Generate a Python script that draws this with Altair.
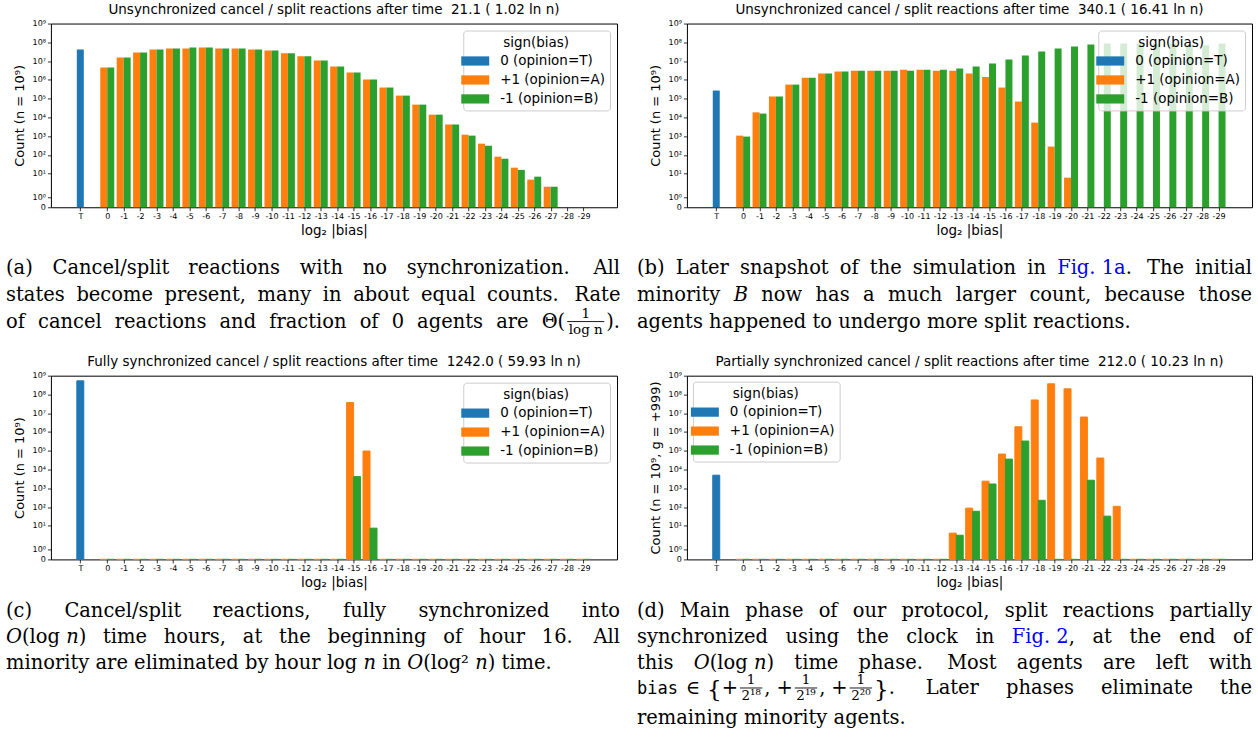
import altair as alt

# ---------------- data ----------------
TICK_LABELS = ["T", "0"] + [f"-{k}" for k in range(1, 30)]
BIN_LABELS = TICK_LABELS[1:]          # 0, -1, ..., -29
SERIES = ["0 (opinion=T)", "+1 (opinion=A)", "-1 (opinion=B)"]
COLORS = ["#1f77b4", "#ff7f0e", "#2ca02c"]

A_TITLE = "Unsynchronized cancel / split reactions after time\u00a0 21.1 ( 1.02 ln n)"
A_T = 4.2e7
A_A = [4.5e6, 1.55e7, 2.9e7, 4.2e7, 4.7e7, 4.7e7, 5.3e7, 4.7e7, 4.7e7, 4.2e7,
       3.7e7, 2.6e7, 1.8e7, 1.08e7, 5.1e6, 2.5e6, 1.04e6, 3.9e5, 1.45e5, 4.8e4,
       1.4e4, 4.2e3, 1.2e3, 4.0e2, 81, 21, 5.6, 2.8, 0, 0]
A_B = [4.5e6, 1.55e7, 2.9e7, 4.2e7, 4.7e7, 5.3e7, 5.3e7, 4.7e7, 4.7e7, 4.2e7,
       3.7e7, 2.6e7, 1.8e7, 1.08e7, 5.1e6, 2.5e6, 1.04e6, 3.9e5, 1.45e5, 4.8e4,
       1.4e4, 4.2e3, 1.07e3, 3.1e2, 63, 16, 7.5, 2.8, 0, 0]

B_TITLE = "Unsynchronized cancel / split reactions after time\u00a0 340.1 ( 16.41 ln n)"
B_T = 2.7e5
B_A = [1.07e3, 1.86e4, 1.3e5, 5.6e5, 1.3e6, 2.2e6, 2.8e6, 3.1e6, 3.1e6, 3.1e6,
       3.5e6, 3.5e6, 3.1e6, 3.1e6, 2.2e6, 1.4e6, 3.9e5, 7.0e4, 5.3e3, 2.8e2,
       6.8, 0, 0, 0, 0, 0, 0, 0, 0, 0]
B_B = [9.5e2, 1.6e4, 1.3e5, 5.6e5, 1.3e6, 2.2e6, 2.8e6, 3.1e6, 3.1e6, 3.1e6,
       3.1e6, 3.5e6, 3.5e6, 4.0e6, 5.2e6, 7.4e6, 1.2e7, 2.0e7, 3.2e7, 4.7e7,
       6.0e7, 7.7e7, 8.7e7, 8.7e7, 8.9e7, 8.7e7, 8.7e7, 7.7e7, 7.0e7, 8.7e7]

C_TITLE = "Fully synchronized cancel / split reactions after time\u00a0 1242.0 ( 59.93 ln n)"
C_T = 5.3e8
C_A = [0, 0, 0, 0, 0, 0, 0, 0, 0, 0, 0, 0, 0, 0, 0, 3.7e7, 9.7e4,
       0, 0, 0, 0, 0, 0, 0, 0, 0, 0, 0, 0, 0]
C_B = [0, 0, 0, 0, 0, 0, 0, 0, 0, 0, 0, 0, 0, 0, 0, 4.2e3, 8.0,
       0, 0, 0, 0, 0, 0, 0, 0, 0, 0, 0, 0, 0]

D_TITLE = "Partially synchronized cancel / split reactions after time\u00a0 212.0 ( 10.23 ln n)"
D_T = 5.0e3
D_A = [0, 0, 0, 0, 0, 0, 0, 0, 0, 0, 0, 0, 0, 4.9, 88, 2.4e3, 6.7e4, 1.9e6,
       5.1e7, 3.7e8, 2.0e8, 6.3e6, 4.1e4, 1.1e2, 0, 0, 0, 0, 0, 0]
D_B = [0, 0, 0, 0, 0, 0, 0, 0, 0, 0, 0, 0, 0, 4.0, 60, 1.7e3, 3.6e4, 3.3e5,
       2.3e2, 0, 0, 2.7e3, 33, 0, 0, 0, 0, 0, 0, 0]

Y_TITLE = "Count (n = 10\u2079)"
D_Y_TITLE = "Count (n = 10\u2079, g = +999)"
X_TITLE = "log\u2082 |bias|"

# ---------------- layout constants ----------------
PLOT_H = 184
W_LEFT, W_RIGHT = 567, 566
COL_GAP = 70
CAP_H = 120
ROW_GAP = 24.35
TOP0 = 19.0
COL0, COL1 = 50.0, 687.0
CAP_ROW1 = TOP0 + PLOT_H + ROW_GAP
CAP_ROW2 = TOP0 + 2 * PLOT_H + 3 * ROW_GAP + CAP_H

Y_MAX = 9.786
Y_TICKS = [0, 0.533] + [1.786 + k for k in range(9)]
X_TICKS = [-1.64] + list(range(0, 30))

SUP = "['\u00b9','\u00b2','\u00b3','\u2074','\u2075','\u2076','\u2077','\u2078','\u2079']"
Y_LABEL_EXPR = ("datum.value < 0.2 ? '0' : (datum.value < 1 ? '10\u2070' : '10' + "
                + SUP + "[round(datum.value - 1.786)])")
X_LABEL_EXPR = "datum.value < -0.5 ? 'T' : (datum.value < 0.5 ? '0' : '-' + round(datum.value))"


def panel(title, t, a, b, ytitle, orient, width, zeros):
    rows = [{"cat": "T", "series": SERIES[0], "count": t}]
    for i, c in enumerate(BIN_LABELS):
        for s, v in ((SERIES[1], a[i]), (SERIES[2], b[i])):
            if v > 0 or zeros:
                rows.append({"cat": c, "series": s, "count": v})
    legend = alt.Legend(
        title="sign(bias)", orient=orient, offset=7 if orient == "top-right" else 6,
        symbolType="M-2,-0.66H2V0.66H-2Z", symbolSize=196, symbolStrokeWidth=0,
        symbolOpacity=1, labelOffset=18, rowPadding=5, titlePadding=5,
        padding=5, cornerRadius=3, fillColor="rgba(255,255,255,0.8)",
        strokeColor="#cccccc", titleAnchor="middle",
    )
    enc = dict(
        x=alt.X("x0:Q", scale=alt.Scale(domain=[-3.43, 31.04], nice=False, zero=False),
                axis=alt.Axis(values=X_TICKS, labelExpr=X_LABEL_EXPR, title=X_TITLE,
                              labelAngle=0)),
        x2="x1:Q",
        y=alt.Y("yv:Q", scale=alt.Scale(domain=[0, Y_MAX], nice=False, zero=False),
                axis=alt.Axis(values=Y_TICKS, labelExpr=Y_LABEL_EXPR, title=ytitle)),
        y2=alt.datum(0),
        color=alt.Color("series:N", scale=alt.Scale(domain=SERIES, range=COLORS),
                        legend=legend),
    )
    mark = dict(strokeWidth=1) if zeros else dict(strokeWidth=0)
    if zeros:
        enc["stroke"] = alt.Stroke("series:N", scale=alt.Scale(domain=SERIES, range=COLORS),
                                   legend=None)
    ch = (
        alt.Chart(alt.Data(values=rows))
        .transform_calculate(pos="datum.cat === 'T' ? -1.64 : -toNumber(datum.cat)")
        .transform_calculate(
            x0="datum.series === '0 (opinion=T)' ? datum.pos - 0.2128 : "
               "(datum.series === '+1 (opinion=A)' ? datum.pos - 0.4255 : datum.pos)")
        .transform_calculate(x1="datum.x0 + 0.4255")
        .transform_calculate(
            yv="datum.count <= 0 ? 0 : (datum.count < 1 ? 0.533 * datum.count : "
               "(datum.count < 10 ? 0.533 + 1.253 * log(datum.count) / LN10 : "
               "0.786 + log(datum.count) / LN10))")
        .mark_rect(**mark)
        .encode(**enc)
        .properties(width=width, height=PLOT_H, title=title,
                    view=alt.ViewBackground(stroke="black", strokeWidth=1))
    )
    return ch


# ---------------- captions (simple justified typesetting) ----------------
FS = 19.5
FSF = 13.5
FSM = 17
FSBR = 23
WID = {
    " ": .318, "a": .596, "b": .640, "c": .560, "d": .640, "e": .592, "f": .370,
    "g": .640, "h": .644, "i": .320, "j": .310, "k": .606, "l": .320, "m": .948,
    "n": .644, "o": .602, "p": .640, "q": .640, "r": .478, "s": .513, "t": .402,
    "u": .644, "v": .565, "w": .856, "x": .564, "y": .565, "z": .525,
    "A": .722, "B": .735, "C": .720, "D": .802, "F": .693, "L": .667, "M": 1.024,
    "O": .820, "R": .753, "T": .667, "\u0398": .820, "\u2208": .780,
    ".": .318, ",": .318, "(": .390, ")": .390, "/": .337, "+": .838, "{": .636,
    "}": .636, "\u00b2": .401, "\u00b9": .401, "\u2078": .401, "\u2079": .401,
    "\u2070": .401,
}
for dgt in "0123456789":
    WID[dgt] = .636


def tw(text, size):
    return sum(WID.get(ch, .6) for ch in text) * size


def run_w(r):
    k = r[0]
    if k == "SP":
        return r[1]
    if k == "F":
        return max(tw(r[1], FSF), tw(r[2], FSF)) + 7
    if k == "M":
        return len(r[1]) * 0.602 * FSM
    if k == "BR":
        return tw(r[1], FSBR)
    return tw(r[1], FS)


OLOGN = [("I", "O"), ("R", "(log "), ("I", "n"), ("R", ")")]

CAP_A = [
    (True, ["(a) Cancel/split reactions with no", [("R", "synchronization."), ("SP", 4)], "All"]),
    (True, ["states become present, many in about equal", [("R", "counts."), ("SP", 4)], "Rate"]),
    (True, ["of cancel reactions and fraction of 0 agents are",
            [("R", "\u0398("), ("F", "1", "log n"), ("R", ").")]]),
]
CAP_B = [
    (True, ["(b) Later snapshot of the simulation in",
            [("B", "Fig. 1a"), ("R", "."), ("SP", 4)], "The initial"]),
    (True, ["minority", [("I", "B")], "now has a much larger count, because those"]),
    (False, ["agents happened to undergo more split reactions."]),
]
CAP_C = [
    (True, ["(c) Cancel/split reactions, fully synchronized into"]),
    (True, [OLOGN, "time hours, at the beginning of hour", [("R", "16."), ("SP", 4)], "All"]),
    (False, ["minority are eliminated by hour", [("R", "log "), ("I", "n")], "in",
             [("I", "O"), ("R", "(log\u00b2 "), ("I", "n"), ("R", ")")], "time."]),
]
CAP_D = [
    (True, ["(d) Main phase of our protocol, split reactions partially"]),
    (True, ["synchronized using the clock in", [("B", "Fig. 2"), ("R", ",")], "at the end of"]),
    (True, ["this", OLOGN, "time", [("R", "phase."), ("SP", 4)], "Most agents are left with"]),
    (True, [[("M", "bias"), ("SP", 8), ("R", "\u2208"), ("SP", 6), ("BR", "{"),
             ("R", "+"), ("F", "1", "2\u00b9\u2078"), ("R", ","), ("SP", 6),
             ("R", "+"), ("F", "1", "2\u00b9\u2079"), ("R", ","), ("SP", 6),
             ("R", "+"), ("F", "1", "2\u00b2\u2070"), ("BR", "}"), ("R", "."), ("SP", 4)],
            "Later phases eliminate the"]),
    (False, ["remaining minority agents."]),
]

STYLES = {
    "R": dict(font="DejaVu Serif", fontSize=FS, color="black"),
    "I": dict(font="DejaVu Serif", fontSize=FS, fontStyle="italic", color="black"),
    "B": dict(font="DejaVu Serif", fontSize=FS, color="#0000ff"),
    "M": dict(font="DejaVu Sans Mono", fontSize=FSM, color="black"),
    "BR": dict(font="DejaVu Serif", fontSize=FSBR, color="black"),
    "FR": dict(font="DejaVu Serif", fontSize=FSF, color="black", align="center"),
}


def caption(lines, baselines, x_left, x_right, col_left, row_top, width):
    buckets = {k: [] for k in STYLES}
    rules = []
    for (just, items), yb in zip(lines, baselines):
        tokens = []
        for it in items:
            if isinstance(it, str):
                tokens += [[("R", w)] for w in it.split()]
            else:
                tokens.append(it)
        widths = [sum(run_w(r) for r in tok) for tok in tokens]
        if just and len(tokens) > 1:
            gap = (x_right - x_left - sum(widths)) / (len(tokens) - 1)
        else:
            gap = WID[" "] * FS
        x = x_left
        y = yb - row_top
        for tok, w in zip(tokens, widths):
            cx = x
            for r in tok:
                k = r[0]
                if k == "SP":
                    cx += r[1]
                    continue
                if k == "F":
                    fw = run_w(r)
                    buckets["FR"].append({"t": r[1], "x": cx + fw / 2 - col_left, "y": y - 10.5})
                    buckets["FR"].append({"t": r[2], "x": cx + fw / 2 - col_left, "y": y + 6.0})
                    rules.append({"x": cx + 2 - col_left, "x2": cx + fw - 2 - col_left, "y": y - 6.5})
                    cx += fw
                    continue
                dy = 3 if k == "BR" else 0
                buckets[k].append({"t": r[1], "x": cx - col_left, "y": y + dy})
                cx += run_w(r)
            x += w + gap
    layers = []
    for k, rows in buckets.items():
        if not rows:
            continue
        st = dict(STYLES[k])
        align = st.pop("align", "left")
        layers.append(
            alt.Chart(alt.Data(values=rows))
            .mark_text(align=align, baseline="alphabetic", **st)
            .encode(x=alt.X("x:Q", scale=None, axis=None),
                    y=alt.Y("y:Q", scale=None, axis=None),
                    text="t:N")
        )
    if rules:
        layers.append(
            alt.Chart(alt.Data(values=rules))
            .mark_rule(color="black", strokeWidth=0.9)
            .encode(x=alt.X("x:Q", scale=None, axis=None), x2="x2:Q",
                    y=alt.Y("y:Q", scale=None, axis=None))
        )
    return alt.layer(*layers).properties(
        width=width, height=CAP_H, view=alt.ViewBackground(stroke="transparent"))


TOP_BASE = [270, 297, 324]
BOT_BASE = [613, 639, 665, 691, 721]

pA = panel(A_TITLE, A_T, A_A, A_B, Y_TITLE, "top-right", W_LEFT, False)
pB = panel(B_TITLE, B_T, B_A, B_B, Y_TITLE, "top-right", W_RIGHT, False)
pC = panel(C_TITLE, C_T, C_A, C_B, Y_TITLE, "top-right", W_LEFT, True)
pD = panel(D_TITLE, D_T, D_A, D_B, D_Y_TITLE, "top-left", W_RIGHT, True)

cA = caption(CAP_A, TOP_BASE, 5, 620, COL0, CAP_ROW1, W_LEFT)
cB = caption(CAP_B, TOP_BASE, 637, 1253, COL1, CAP_ROW1, W_RIGHT)
cC = caption(CAP_C, BOT_BASE, 5, 620, COL0, CAP_ROW2, W_LEFT)
cD = caption(CAP_D, BOT_BASE, 637, 1253, COL1, CAP_ROW2, W_RIGHT)

chart = (
    alt.concat(pA, pB, cA, cB, pC, pD, cC, cD, columns=2,
               spacing={"row": ROW_GAP, "column": COL_GAP}, bounds="flush")
    .resolve_scale(color="independent", stroke="independent")
    .resolve_legend(color="independent")
    .properties(padding={"left": 5, "top": 2, "right": 5, "bottom": 5},
                background="white")
    .configure_title(font="DejaVu Sans", fontSize=13.5, fontWeight="normal",
                     color="black", offset=3, anchor="middle")
    .configure_axis(labelFont="DejaVu Sans", labelFontSize=8, labelColor="black",
                    titleFont="DejaVu Sans", titleFontSize=13.5, titleFontWeight="normal",
                    titleColor="black", domain=False, tickColor="black", tickSize=3.5,
                    tickWidth=0.8, grid=False, labelPadding=2, labelFlush=False,
                    labelOverlap=False)
    .configure_axisX(titlePadding=3)
    .configure_axisY(titlePadding=6, titleFontSize=13)
    .configure_legend(titleFont="DejaVu Sans", titleFontSize=13.5, titleFontWeight="normal",
                      titleColor="black", labelFont="DejaVu Sans", labelFontSize=13.5,
                      labelColor="black")
)

chart.save("out.html", embed_options={"renderer": "svg", "actions": False})
